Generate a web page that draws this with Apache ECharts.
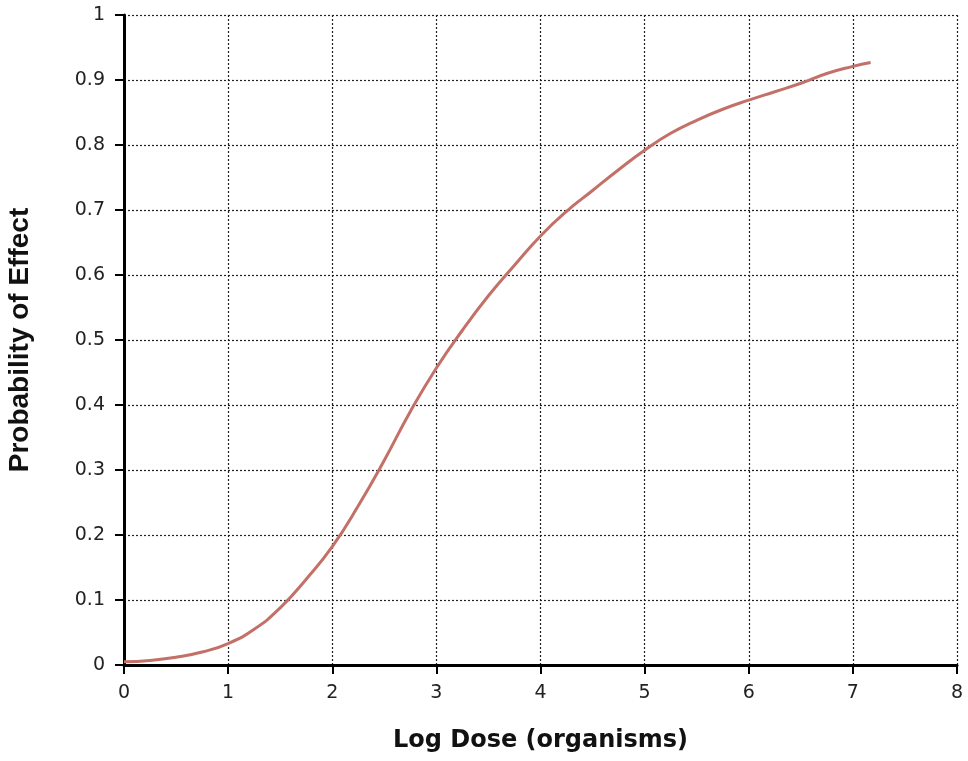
<!DOCTYPE html>
<html>
<head>
<meta charset="utf-8">
<script src="https://cdn.jsdelivr.net/npm/echarts@6/dist/echarts.min.js"></script>
<style>
  html, body { margin: 0; padding: 0; background: #fff; }
  #chart { width: 968px; height: 761px; }
</style>
</head>
<body>
<div id="chart"></div>
<script>
// log dose values and probability
const logDose = [0, 0.25, 0.5, 0.75, 1, 1.25, 1.5, 1.75, 2, 2.25, 2.5, 2.75, 3, 3.25, 3.5, 3.75,
  4, 4.25, 4.5, 4.75, 5, 5.25, 5.5, 5.75, 6, 6.25, 6.5, 6.75, 7, 7.17]
const probEffect = [0.005, 0.007, 0.012, 0.02, 0.033, 0.055, 0.088, 0.132, 0.182, 0.245, 0.315, 0.39,
  0.457, 0.515, 0.568, 0.615, 0.66, 0.698, 0.73, 0.762, 0.792, 0.818, 0.838, 0.855, 0.869, 0.882,
  0.895, 0.91, 0.921, 0.927]

const myChart = echarts.init(document.getElementById('chart'))

const gridLine = { show: true, lineStyle: { color: '#222', width: 1.2, type: [2, 2] } }
const tickLabel = { fontFamily: 'DejaVu Sans', fontSize: 19, color: '#222', margin: 19 }

myChart.setOption({
  animation: false,
  grid: { left: 124, right: 11, top: 15, bottom: 96, containLabel: false, outerBoundsMode: 'none' },
  xAxis: {
    type: 'value',
    min: 0,
    max: 8,
    interval: 1,
    name: 'Log Dose (organisms)',
    nameLocation: 'middle',
    nameGap: 64,
    nameTextStyle: { fontFamily: 'DejaVu Sans', fontWeight: 'bold', fontSize: 24, color: '#111' },
    axisLine: { onZero: false, lineStyle: { color: '#000', width: 3 } },
    axisTick: { show: true, length: 9, lineStyle: { color: '#000', width: 2 } },
    axisLabel: tickLabel,
    splitLine: gridLine
  },
  yAxis: {
    type: 'value',
    min: 0,
    max: 1,
    interval: 0.1,
    name: 'Probability of Effect',
    nameLocation: 'middle',
    nameGap: 90,
    nameTextStyle: { fontFamily: 'Liberation Sans', fontWeight: 'bold', fontSize: 28, color: '#111' },
    axisLine: { show: true, onZero: false, lineStyle: { color: '#000', width: 3 } },
    axisTick: { show: true, length: 9, lineStyle: { color: '#000', width: 2 } },
    axisLabel: tickLabel,
    splitLine: gridLine
  },
  series: [{
    type: 'line',
    data: logDose.map((x, i) => [x, probEffect[i]]),
    smooth: true,
    showSymbol: false,
    lineStyle: { color: '#c27068', width: 3 }
  }]
})
</script>
</body>
</html>
